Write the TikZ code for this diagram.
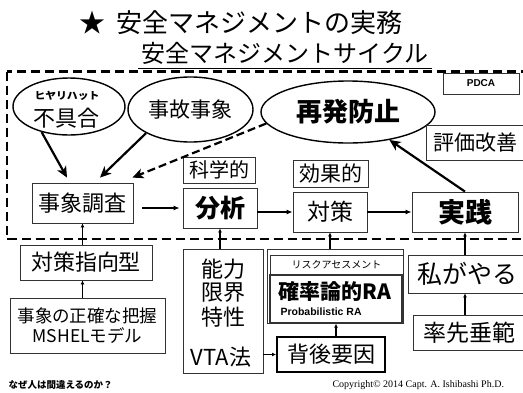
\documentclass[tikz,border=0pt]{standalone}
\usepackage{fontspec}
\setmainfont{Noto Sans CJK JP}
\newfontfamily\lsans{Liberation Sans}
\newfontfamily\lserif{Liberation Serif}
\usetikzlibrary{arrows.meta,shapes.geometric}
\begin{document}
\begin{tikzpicture}[x=1pt,y=-1pt,
  fs/.style={font=\fontsize{#1}{#1}\selectfont},
  fsb/.style={font=\fontsize{#1}{#1}\selectfont\bfseries},
  box/.style={draw=black!80, line width=0.8pt, inner sep=0pt, align=center},
  ell/.style={draw, ellipse, line width=1.4pt, inner sep=0pt},
  bigarr/.style={line width=2.2pt, -{Stealth[length=11pt,width=10pt,inset=3pt]}},
  midarr/.style={line width=1.2pt, -{Latex[length=6pt,width=5pt]}},
  smallarr/.style={line width=1.2pt, -{Latex[length=4pt,width=4pt]}},
  frame/.style={line width=2.2pt, dash pattern=on 9pt off 5pt}
]
\useasboundingbox (0,0) rectangle (523,392);
\clip (0,0) rectangle (523,392);
\fill[white] (0,0) rectangle (523,392);

% titles
\node[fs=26] (title) at (241,23) {★\hspace{11pt}安全マネジメントの実務};
\node[fs=24] (sub) at (285,53) {安全マネジメントサイクル};
\draw[line width=1pt] (sub.south west |- 0,68) coordinate (ul1) -- (sub.south east |- 0,68) coordinate (ul2);

% dashed frame
\draw[frame] (7,71.5) rectangle (535,239);

% PDCA
\node[box, minimum width=76pt, minimum height=21pt, font=\lsans\bfseries\fontsize{10}{10}\selectfont] (pdca) at (481,83.5) {PDCA};

% ellipses
\node[ell, minimum width=112pt, minimum height=57pt] (e1) at (69,106.5) {};
\node[font=\fontsize{10}{10}\selectfont\bfseries, xscale=1.08] (hiyari) at (67,96) {ヒヤリハット};
\node[fs=22] (fugu) at (67,118) {不具合};
\node[ell, minimum width=125pt, minimum height=65pt, fs=21] (e2) at (190.5,109.5) {事故事象};
\node[ell, minimum width=174pt, minimum height=62pt, fsb=26] (e3) at (348,112) {再発防止};

% upper boxes
\node[box, minimum width=97pt, minimum height=35pt, fs=21] (hyoka) at (475,142.5) {評価改善};
\node[box, minimum width=101pt, minimum height=40pt, fs=22] (jiko) at (82.5,203) {事象調査};
\node[box, minimum width=72pt, minimum height=26pt, fs=20] (kagaku) at (219,170) {科学的};
\node[box, minimum width=74pt, minimum height=40pt, fsb=25] (bunseki) at (220,208) {分析};
\node[box, minimum width=75pt, minimum height=27pt, fs=21] (koka) at (330.5,173.5) {効果的};
\node[box, minimum width=74pt, minimum height=40pt, fs=23] (taisaku) at (330,212) {対策};
\node[box, minimum width=106pt, minimum height=40pt, fsb=27] (jissen) at (465,212) {実践};

% lower boxes
\node[box, minimum width=132pt, minimum height=35pt, fs=22] (shiko) at (86,262.5) {対策指向型};
\node[box, minimum width=155pt, minimum height=55pt, font=\fontsize{17.5}{20}\selectfont] (mshel) at (87.5,325.5) {事象の正確な把握\\MSHELモデル};
\node[box, minimum width=80pt, minimum height=124pt] (noryoku) at (223,311) {};
\node[fs=22] (t1) at (223,269) {能力};
\node[fs=22] (t2) at (223,293) {限界};
\node[fs=22] (t3) at (223,317) {特性};
\node[fs=22] (t4) at (221,357) {VTA法};

\node[box, minimum width=136pt, minimum height=74pt] (raout) at (335,286) {};
\node[box, minimum width=133pt, minimum height=20pt, fs=10] (risk) at (336.5,265) {リスクアセスメント};
\node[draw=black!80, line width=1.4pt, inner sep=0pt, minimum width=132pt, minimum height=48pt] (ra) at (336,299) {};
\node[fsb=21] (ratext) at (335,292) {確率論的RA};
\node[anchor=west, font=\lsans\bfseries\fontsize{10.5}{10.5}\selectfont] (prob) at (277,312) {Probabilistic RA};
\node[draw=black, line width=2pt, inner sep=0pt, minimum width=108pt, minimum height=35pt, fs=22] (haigo) at (331,354.5) {背後要因};

\node[box, minimum width=118pt, minimum height=38pt, fs=25] (watashi) at (467,274) {私がやる};
\node[box, minimum width=112pt, minimum height=35pt, fs=23] (sossen) at (469,332.5) {率先垂範};

% footer texts
\node[anchor=west, fsb=9.5] (naze) at (5,385) {なぜ人は間違えるのか？};
\node[anchor=west, font=\lserif\fontsize{10}{10}\selectfont] (copy) at (329,385) {Copyright© 2014 Capt. A. Ishibashi Ph.D.};

% arrows from ellipses
\draw[bigarr] (e1.223) -- ([xshift=-15.5pt,yshift=5pt]jiko.north);
\draw[bigarr] (e2.208) -- ([xshift=17.5pt,yshift=5pt]jiko.north);
\draw[bigarr, dash pattern=on 8pt off 4pt] (e3.188) -- ([xshift=-1pt,yshift=5pt]jiko.north east);
\draw[bigarr] (jissen.north) -- (e3.326);

% horizontal arrows
\draw[midarr] ([xshift=9pt]jiko.east |- bunseki.west) -- ([xshift=-3pt]bunseki.west);
\draw[midarr] (bunseki.east |- taisaku.west) -- (taisaku.west);
\draw[midarr] (taisaku.east) -- (jissen.west);

% vertical arrows
\draw[smallarr] (shiko.north -| jiko.south) -- (jiko.south);
\draw[smallarr] (mshel.north -| jiko.south) -- (shiko.south -| jiko.south);
\draw[smallarr] (noryoku.north -| bunseki.south) -- (bunseki.south);
\draw[smallarr] (raout.north -| taisaku.south) -- (taisaku.south);
\draw[smallarr] (haigo.north -| ra.south) -- (ra.south);
\draw[smallarr] (noryoku.east |- haigo.west) -- (haigo.west);
\draw[smallarr] (watashi.north -| jissen.south) -- (jissen.south);
\draw[smallarr] (sossen.north -| jissen.south) -- (watashi.south -| jissen.south);
\end{tikzpicture}
\end{document}
